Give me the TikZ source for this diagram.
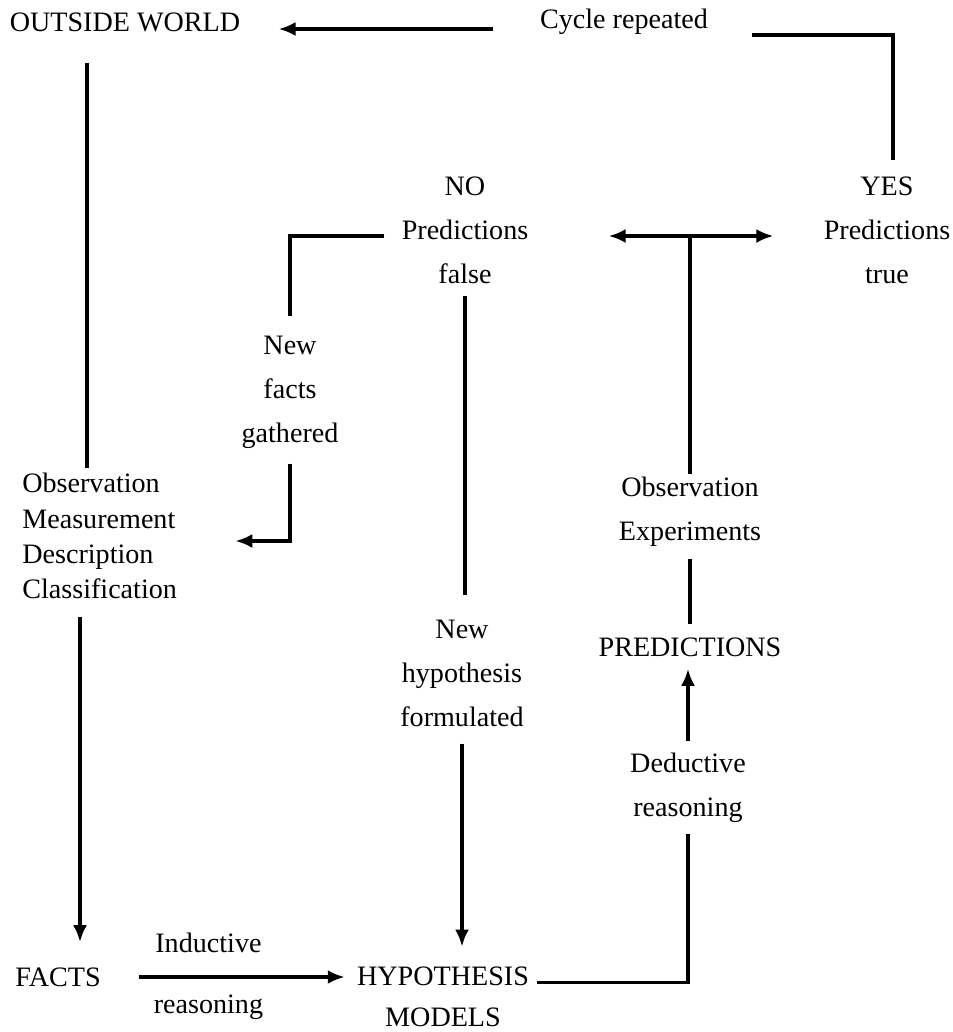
\documentclass[tikz,border=0pt]{standalone}
\usepackage{fontspec}
\setmainfont{Liberation Serif}
\usetikzlibrary{arrows.meta}

\begin{document}
\begin{tikzpicture}[x=0.02cm, y=-0.02cm,
  lbl/.style={inner sep=0pt, align=center, font=\fontsize{16}{25}\selectfont},
  link/.style={line width=2pt},
  arrow/.style={link, -{Latex[length=3.4mm, width=2.8mm]}}]
  \useasboundingbox (0,0) rectangle (953,1032);

  \coordinate (fork) at (690,236);
  \coordinate (colA) at (87,0);
  \coordinate (colB) at (80,0);

  \node[lbl] (outside) at (125,22) {OUTSIDE WORLD};
  \node[lbl] (cycle) at (624,22) {Cycle repeated};
  \node[lbl] (no) at (465,230) {NO\\Predictions\\false};
  \node[lbl] (yes) at (887,230) {YES\\Predictions\\true};
  \node[lbl] (gathered) at (290,392) {New\\facts\\gathered};
  \node[lbl, align=left, anchor=west, font=\fontsize{16}{20}\selectfont] (obs) at (22,536)
    {Observation\\Measurement\\Description\\Classification};
  \node[lbl] (exper) at (690,512) {Observation\\Experiments};
  \node[lbl] (predictions) at (690,647) {PREDICTIONS};
  \node[lbl] (newhyp) at (462,673) {New\\hypothesis\\formulated};
  \node[lbl] (deductive) at (688,788) {Deductive\\reasoning};
  \node[lbl] (facts) at (58,977) {FACTS};
  \node[lbl, font=\fontsize{16}{23.5}\selectfont] (hyp) at (443,997) {HYPOTHESIS\\MODELS};

  % cycle back to the outside world
  \draw[arrow, shorten <=0.94cm, shorten >=0.76cm] ([yshift=-0.14cm]cycle.west) -- ([yshift=-0.14cm]outside.east);
  \draw[link, shorten <=0.88cm, shorten >=0.32cm] ([yshift=-0.26cm]cycle.east) -| ([xshift=0.12cm]yes.north);

  % observation down to facts
  \draw[link, shorten <=0.62cm, shorten >=0.1cm] (outside.south -| colA) -- (obs.north -| colA);
  \draw[arrow, shorten <=0.36cm, shorten >=0.5cm] (obs.south -| colB) -- (facts.north -| colB);
  \draw[arrow, shorten <=0.76cm, shorten >=0.24cm] (facts.east) -- (hyp.west |- facts.east)
    node[lbl, pos=0.42, above=0.44cm] (induct) {Inductive}
    node[lbl, pos=0.42, below=0.32cm] (inductb) {reasoning};

  % hypothesis up to predictions
  \draw[link, shorten <=0.16cm, shorten >=0.22cm] ([yshift=0.29cm]hyp.east) -| (deductive.south);
  \draw[arrow, shorten <=0.24cm, shorten >=0.24cm] (deductive.north) -- (deductive.north |- predictions.south);
  \draw[link, shorten <=0.26cm, shorten >=0.24cm] (predictions.north) -- (exper.south);
  \draw[link, shorten <=0.06cm] (exper.north) -- (fork);

  % outcomes
  \draw[arrow, shorten >=1.6cm] (fork) -- (fork -| no.east);
  \draw[arrow, shorten >=1.0cm] (fork) -- (fork -| yes.west);

  % predictions false
  \draw[link, shorten <=0.34cm, shorten >=0.4cm] (fork -| no.west) -| (gathered.north);
  \draw[arrow, shorten <=0.3cm, shorten >=1.16cm] (gathered.south) |- ([yshift=-0.1cm]obs.east);
  \draw[link, shorten <=0.24cm, shorten >=0.48cm] (no.south) -- (no.south |- newhyp.north);
  \draw[arrow, shorten <=0.34cm, shorten >=0.4cm] (newhyp.south) -- (newhyp.south |- hyp.north);
\end{tikzpicture}
\end{document}
